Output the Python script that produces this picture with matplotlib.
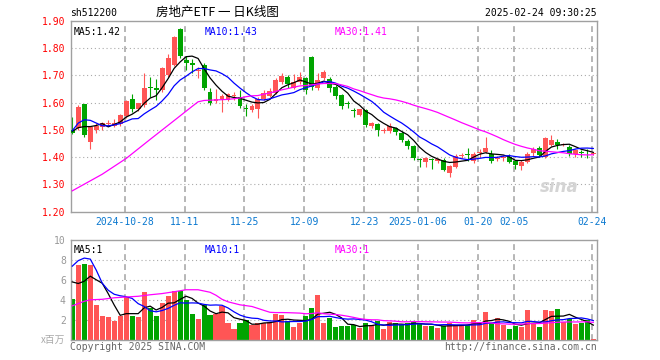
import matplotlib
matplotlib.use("Agg")
from matplotlib import pyplot as plt
import numpy as np

# 日K数据: 开盘/最高/最低/收盘 (2024-10-15 ~ 2025-02-24)
opens = [1.50, 1.505, 1.595, 1.455, 1.50, 1.51, 1.52, 1.515, 1.52, 1.55,
         1.615, 1.575, 1.59, 1.657, 1.652, 1.646, 1.70, 1.74, 1.87, 1.755,
         1.745, 1.715, 1.74, 1.64, 1.607, 1.615, 1.61, 1.625, 1.62, 1.58,
         1.572, 1.578, 1.612, 1.625, 1.634, 1.675, 1.695, 1.655, 1.677, 1.69,
         1.768, 1.655, 1.69, 1.688, 1.656, 1.628, 1.597, 1.572, 1.555, 1.572,
         1.515, 1.52, 1.497, 1.494, 1.505, 1.488, 1.458, 1.44, 1.392, 1.382,
         1.393, 1.384, 1.39, 1.34, 1.365, 1.404, 1.41, 1.387, 1.415, 1.42,
         1.413, 1.392, 1.397, 1.40, 1.385, 1.367, 1.383, 1.415, 1.433, 1.40,
         1.446, 1.456, 1.444, 1.438, 1.41, 1.418, 1.419, 1.412]
highs = [1.548, 1.59, 1.595, 1.515, 1.525, 1.53, 1.535, 1.54, 1.56, 1.61,
         1.63, 1.60, 1.71, 1.695, 1.687, 1.732, 1.78, 1.845, 1.875, 1.77,
         1.76, 1.73, 1.745, 1.652, 1.65, 1.63, 1.635, 1.638, 1.645, 1.595,
         1.595, 1.62, 1.645, 1.655, 1.69, 1.71, 1.70, 1.705, 1.713, 1.695,
         1.77, 1.71, 1.72, 1.695, 1.665, 1.63, 1.605, 1.58, 1.578, 1.575,
         1.53, 1.525, 1.505, 1.525, 1.51, 1.495, 1.465, 1.445, 1.395, 1.40,
         1.395, 1.398, 1.398, 1.37, 1.41, 1.415, 1.435, 1.418, 1.43, 1.475,
         1.425, 1.405, 1.407, 1.41, 1.39, 1.39, 1.417, 1.436, 1.44, 1.475,
         1.48, 1.465, 1.45, 1.445, 1.43, 1.425, 1.428, 1.42]
lows = [1.483, 1.50, 1.475, 1.43, 1.49, 1.50, 1.515, 1.51, 1.515, 1.545,
        1.565, 1.57, 1.585, 1.62, 1.61, 1.64, 1.695, 1.735, 1.765, 1.72,
        1.71, 1.69, 1.645, 1.59, 1.597, 1.565, 1.605, 1.61, 1.58, 1.55,
        1.566, 1.545, 1.608, 1.62, 1.63, 1.67, 1.655, 1.65, 1.67, 1.63,
        1.648, 1.648, 1.685, 1.64, 1.615, 1.578, 1.58, 1.548, 1.55, 1.51,
        1.505, 1.478, 1.49, 1.49, 1.48, 1.455, 1.43, 1.39, 1.362, 1.365,
        1.355, 1.378, 1.35, 1.325, 1.36, 1.395, 1.385, 1.378, 1.40, 1.415,
        1.378, 1.385, 1.385, 1.378, 1.357, 1.352, 1.378, 1.405, 1.40, 1.395,
        1.44, 1.43, 1.44, 1.405, 1.402, 1.40, 1.398, 1.408]
closes = [1.49, 1.585, 1.48, 1.51, 1.515, 1.525, 1.525, 1.525, 1.555, 1.605,
          1.578, 1.597, 1.652, 1.652, 1.648, 1.726, 1.763, 1.84, 1.77, 1.745,
          1.737, 1.72, 1.653, 1.60, 1.612, 1.624, 1.63, 1.628, 1.586, 1.577,
          1.589, 1.615, 1.636, 1.644, 1.683, 1.697, 1.668, 1.675, 1.693, 1.647,
          1.657, 1.685, 1.713, 1.655, 1.625, 1.587, 1.594, 1.569, 1.575, 1.517,
          1.526, 1.501, 1.50, 1.515, 1.492, 1.462, 1.44, 1.397, 1.389, 1.397,
          1.391, 1.392, 1.354, 1.367, 1.405, 1.407, 1.407, 1.413, 1.42, 1.432,
          1.386, 1.398, 1.402, 1.383, 1.37, 1.382, 1.413, 1.43, 1.407, 1.47,
          1.464, 1.443, 1.446, 1.413, 1.426, 1.415, 1.417, 1.415]
# 成交量(百万)
volumes = [4.1, 7.5, 7.6, 7.5, 3.5, 2.4, 2.3, 1.93, 2.4, 4.33,
           2.4, 2.3, 4.8, 3.27, 2.4, 3.7, 4.4, 4.97, 4.97, 4.0,
           2.6, 2.1, 3.5, 2.5, 2.63, 3.4, 1.73, 1.1, 1.73, 2.0,
           1.55, 1.75, 1.7, 1.85, 2.6, 2.5, 1.93, 1.3, 1.72, 2.43,
           3.2, 4.5, 1.72, 2.2, 1.33, 1.43, 1.43, 1.5, 1.23, 1.73,
           1.53, 1.97, 1.1, 1.83, 1.73, 1.5, 1.73, 1.83, 1.67, 1.43,
           1.43, 1.23, 1.43, 1.77, 1.53, 1.5, 1.5, 2.0, 1.83, 2.83,
           1.77, 2.23, 1.57, 1.1, 1.4, 1.33, 3.0, 1.77, 1.33, 3.0,
           2.9, 3.1, 1.83, 2.17, 1.6, 1.77, 2.0, 0.1]

tick_idx = [9, 19, 29, 39, 49, 58, 68, 74, 87]
tick_labels = ["2024-10-28", "11-11", "11-25", "12-09", "12-23",
               "2025-01-06", "01-20", "02-05", "02-24"]

# 均线开头窗口不足的部分
ma5_head_idx = [0, 1, 2, 3]
ma5_head = [1.495, 1.508, 1.512, 1.512]
ma10_head_idx = [0, 1, 2, 3, 4, 5, 6, 7, 8]
ma10_head = [1.497, 1.525, 1.537, 1.535, 1.525, 1.515, 1.515, 1.518, 1.523]
ma30_head_idx = [0, 5, 9, 13, 17, 20, 21, 22, 24, 26, 28]
ma30_head = [1.276, 1.337, 1.395, 1.465, 1.534, 1.586, 1.603, 1.608, 1.61, 1.612, 1.617]

vma5_head_idx = [0, 1, 2, 3]
vma5_head = [5.83, 5.67, 5.9, 6.4]
vma10_head_idx = [0, 1, 2, 3, 4, 5, 6, 7, 8]
vma10_head = [7.4, 7.95, 8.2, 8.1, 7.0, 5.7, 5.0, 4.6, 4.45]
vma30_head_idx = [0, 2, 3, 5, 7, 9, 11, 13, 15, 17, 19, 21, 23, 24, 25, 26, 28]
vma30_head = [3.45, 3.9, 4.05, 4.1, 4.25, 4.33, 4.4, 4.55, 4.67, 4.85, 5.05, 5.05,
              4.8, 4.5, 4.1, 3.85, 3.55]

RED = "#ff5555"
GREEN = "#00a400"
GRID = "#aaaaaa"
MONO = "DejaVu Sans Mono"
FS = 7


def moving_average(values, n, head_idx, head_vals):
    values = np.array(values)
    idx = list(head_idx)
    ma = list(head_vals)
    for i in range(n - 1, len(values)):
        idx.append(i)
        ma.append(values[i - n + 1:i + 1].mean())
    return np.array(idx), np.array(ma)


def px(x, y):
    return x / 660, 1 - y / 360


def style_axes(ax, ylim, yticks):
    ax.set_xlim(-0.3, 87.7)
    ax.set_ylim(*ylim)
    for s in ax.spines.values():
        s.set_color("#a0a0a0")
        s.set_linewidth(1.0)
    for t in yticks:
        ax.axhline(t, color=GRID, lw=0.8, ls=(0, (1, 2.5)), zorder=0)
    for t in tick_idx:
        ax.axvline(t - 0.25, color=GRID, lw=1.2, ls=(0, (3.5, 2.5)), zorder=0)


fig = plt.figure(figsize=(6.6, 3.6), dpi=100)
ax1 = fig.add_axes([0.10682, 0.41250, 0.79848, 0.52917])
ax2 = fig.add_axes([0.10682, 0.05417, 0.79848, 0.27917])

x = np.arange(len(closes))
o = np.array(opens)
c = np.array(closes)
colors = [RED if c[i] >= o[i] else GREEN for i in range(len(c))]

# K线
style_axes(ax1, (1.20, 1.90), [1.30, 1.40, 1.50, 1.60, 1.70, 1.80])
ax1.vlines(x, lows, highs, colors=colors, lw=0.8, zorder=2)
body = np.maximum(np.abs(c - o), 0.003)
ax1.bar(x, body, bottom=np.minimum(o, c), width=0.82, color=colors, lw=0, zorder=3)

for n, head_i, head_v, col in [(5, ma5_head_idx, ma5_head, "black"),
                               (10, ma10_head_idx, ma10_head, "#0000ff"),
                               (30, ma30_head_idx, ma30_head, "#ff00ff")]:
    mi, mv = moving_average(closes, n, head_i, head_v)
    ax1.plot(mi, mv, color=col, lw=0.9, zorder=4)

ax1.set_yticks([1.20, 1.30, 1.40, 1.50, 1.60, 1.70, 1.80, 1.90])
ax1.set_yticklabels(["%.2f" % v for v in ax1.get_yticks()], family=MONO, fontsize=FS, color="#ff0000")
ax1.set_xticks([t - 0.25 for t in tick_idx])
ax1.set_xticklabels(tick_labels, family=MONO, fontsize=FS, color="#0a78d0")
ax1.tick_params(length=0, pad=3.4)
ax1.tick_params(axis="x", pad=3.8)

ax1.text(0.006, 0.97, "MA5:1.42", transform=ax1.transAxes, family=MONO, fontsize=FS,
         color="black", va="top")
ax1.text(0.254, 0.97, "MA10:1.43", transform=ax1.transAxes, family=MONO, fontsize=FS,
         color="#0000ff", va="top")
ax1.text(0.502, 0.97, "MA30:1.41", transform=ax1.transAxes, family=MONO, fontsize=FS,
         color="#ff00ff", va="top")
ax1.text(0.965, 0.08, "sina", transform=ax1.transAxes, fontsize=12, style="italic",
         weight="bold", color="#d4d4d4", ha="right", va="bottom", zorder=1)

# 成交量
style_axes(ax2, (0, 10), [2, 4, 6, 8])
ax2.bar(x, volumes, width=0.85, color=colors, lw=0, zorder=2)
for n, head_i, head_v, col in [(5, vma5_head_idx, vma5_head, "black"),
                               (10, vma10_head_idx, vma10_head, "#0000ff"),
                               (30, vma30_head_idx, vma30_head, "#ff00ff")]:
    mi, mv = moving_average(volumes, n, head_i, head_v)
    ax2.plot(mi, mv, color=col, lw=0.9, zorder=4)
ax2.set_yticks([2, 4, 6, 8, 10])
ax2.set_yticklabels(["2", "4", "6", "8", "10"], family=MONO, fontsize=FS, color="#999999")
ax2.set_xticks([])
ax2.tick_params(length=0, pad=3.4)
ax2.text(0.006, 0.95, "MA5:1", transform=ax2.transAxes, family=MONO, fontsize=FS,
         color="black", va="top")
ax2.text(0.254, 0.95, "MA10:1", transform=ax2.transAxes, family=MONO, fontsize=FS,
         color="#0000ff", va="top")
ax2.text(0.502, 0.95, "MA30:1", transform=ax2.transAxes, family=MONO, fontsize=FS,
         color="#ff00ff", va="top")

# 标题和页脚
fig.text(*px(70, 12.5), "sh512200", family=MONO, fontsize=FS, va="center")
fig.text(*px(217, 12.5), "房地产ETF 一 日K线图", family=["Noto Sans CJK SC", "DejaVu Sans"],
         fontsize=9, ha="center", va="center")
fig.text(*px(597, 12.5), "2025-02-24 09:30:25", family=MONO, fontsize=FS, ha="right", va="center")
fig.text(*px(65, 340), "x百万", family=["Noto Sans CJK SC", "DejaVu Sans"], fontsize=7,
         color="#aaaaaa", ha="right", va="center")
fig.text(*px(70, 346.5), "Copyright 2025 SINA.COM", family=MONO, fontsize=FS,
         color="#666666", va="center")
fig.text(*px(597, 346.5), "http://finance.sina.com.cn", family=MONO, fontsize=FS,
         color="#666666", ha="right", va="center")

fig.savefig("out.png", dpi=100)
